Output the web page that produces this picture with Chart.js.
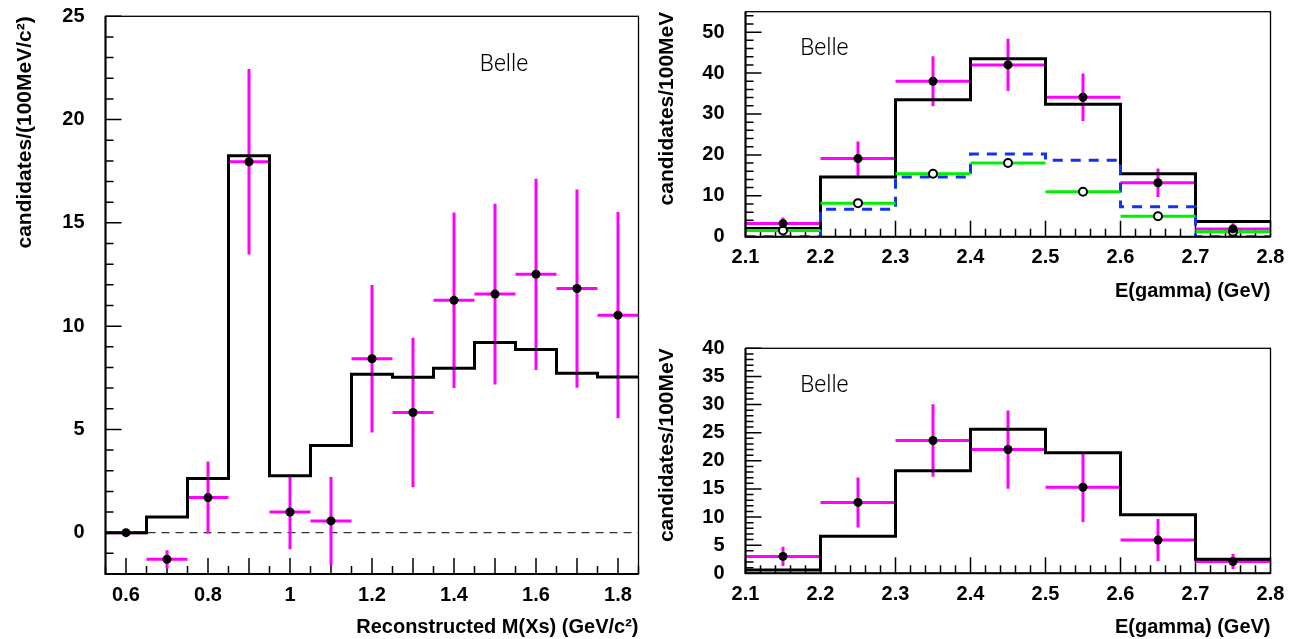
<!DOCTYPE html>
<html>
<head>
<meta charset="utf-8">
<script src="https://cdn.jsdelivr.net/npm/chart.js@4.4.1/dist/chart.umd.min.js"></script>
<style>
  html, body { margin: 0; padding: 0; background: #fff; }
  #wrap { position: relative; width: 1294px; height: 639px; overflow: hidden; }
  canvas { position: absolute; }
</style>
</head>
<body>
<div id="wrap">
  <canvas id="mxs" width="650" height="639" style="left:0;top:0"></canvas>
  <canvas id="egAll" width="644" height="320" style="left:650px;top:0"></canvas>
  <canvas id="egSub" width="644" height="319" style="left:650px;top:320px"></canvas>
</div>
<script>
// left panel, reconstructed M(Xs)
const mxsCenters = [0.6, 0.7, 0.8, 0.9, 1.0, 1.1, 1.2, 1.3, 1.4, 1.5, 1.6, 1.7, 1.8];
const mxsMC   = [0, 0.76, 2.62, 18.25, 2.76, 4.22, 7.67, 7.53, 7.96, 9.21, 8.87, 7.72, 7.54];
const mxsData = [0, -1.29, 1.7, 17.96, 1.0, 0.57, 8.42, 5.82, 11.25, 11.55, 12.51, 11.82, 10.53];
const mxsErr  = [0, 0.44, 1.75, 4.49, 1.8, 2.13, 3.57, 3.62, 4.25, 4.37, 4.63, 4.8, 4.99];
const mxsXTicks  = [0.6, 0.8, 1, 1.2, 1.4, 1.6, 1.8];
const mxsXLabels = ['0.6', '0.8', '1', '1.2', '1.4', '1.6', '1.8'];
const mxsYTicks  = [0, 5, 10, 15, 20, 25];

// right panels, E(gamma)
const egCenters = [2.15, 2.25, 2.35, 2.45, 2.55, 2.65, 2.75];
const egAllMC   = [2.0, 14.6, 33.5, 43.5, 32.4, 15.4, 3.7];
const egAllData = [3.2, 19.1, 38.0, 42.0, 34.1, 13.2, 1.9];
const egAllErr  = [1.5, 4.2, 6.1, 6.4, 5.8, 3.5, 1.4];
const egBlue    = [0, 6.7, 14.6, 20.2, 18.7, 7.3, 0];
const egGreen   = [1.5, 8.2, 15.4, 18.0, 11.0, 5.0, 1.2];
const egSubMC   = [0.6, 6.6, 18.25, 25.6, 21.45, 10.4, 2.5];
const egSubData = [3.0, 12.6, 23.6, 22.0, 15.3, 5.9, 2.1];
const egSubErr  = [1.7, 4.45, 6.45, 6.95, 6.2, 3.75, 1.35];
const egXTicks  = [2.1, 2.2, 2.3, 2.4, 2.5, 2.6, 2.7, 2.8];
const egXLabels = ['2.1', '2.2', '2.3', '2.4', '2.5', '2.6', '2.7', '2.8'];
const egAllYTicks = [0, 10, 20, 30, 40, 50];
const egSubYTicks = [0, 5, 10, 15, 20, 25, 30, 35, 40];

const BIN = 0.1;
const MAGENTA = '#ff00ff';
const tickFont = { family: 'Liberation Sans, Arial, sans-serif', weight: 'bold', size: 20 };

function histPoints(centers, values) {
    let pts = centers.map((c, i) => ({ x: c - BIN / 2, y: values[i] }));
    pts.push({ x: centers[centers.length - 1] + BIN / 2, y: values[values.length - 1] });
    return pts;
}
function markers(centers, values) {
    return centers.map((c, i) => ({ x: c, y: values[i] }));
}

// horizontal bin bar + vertical error, drawn through the scales
const errorBars = {
    id: 'errorBars',
    beforeDatasetDraw(chart, args) {
        let ds = chart.data.datasets[args.index];
        if (!ds.errBar) return;
        let xs = chart.scales.x, ys = chart.scales.y, a = chart.chartArea, ctx = chart.ctx;
        ctx.save();
        ctx.beginPath();
        ctx.rect(a.left, a.top, a.right - a.left, a.bottom - a.top);
        ctx.clip();
        ctx.strokeStyle = ds.errBar.color;
        ctx.lineWidth = ds.errBar.width;
        ds.data.forEach(function (p, i) {
            let px = xs.getPixelForValue(p.x), py = ys.getPixelForValue(p.y);
            ctx.beginPath();
            ctx.moveTo(xs.getPixelForValue(p.x - BIN / 2), py);
            ctx.lineTo(xs.getPixelForValue(p.x + BIN / 2), py);
            if (ds.errBar.err && ds.errBar.err[i] > 0) {
                let e = ds.errBar.err[i];
                ctx.moveTo(px, ys.getPixelForValue(p.y + e));
                ctx.lineTo(px, ys.getPixelForValue(p.y - e));
            }
            ctx.stroke();
        });
        ctx.restore();
    }
};

function isMultiple(v, step) {
    let r = v / step;
    return Math.abs(r - Math.round(r)) < 1e-6;
}

// ROOT-like frame with inward ticks
const rootFrame = {
    id: 'rootFrame',
    beforeDatasetsDraw(chart, args, o) {
        let ctx = chart.ctx, a = chart.chartArea, xs = chart.scales.x, ys = chart.scales.y;
        ctx.save();
        ctx.strokeStyle = '#000';
        ctx.lineWidth = 1.5;
        ctx.beginPath();
        for (let k = Math.ceil(xs.min / o.xMinor - 1e-6); k * o.xMinor <= xs.max + 1e-6; k++) {
            let v = k * o.xMinor, px = xs.getPixelForValue(v);
            let len = isMultiple(v, o.xMajor) ? 16 : 8;
            ctx.moveTo(px, a.bottom);
            ctx.lineTo(px, a.bottom - len);
        }
        for (let k = Math.ceil(ys.min / o.yMinor - 1e-6); k * o.yMinor <= ys.max + 1e-6; k++) {
            let v = k * o.yMinor, py = ys.getPixelForValue(v);
            let len = isMultiple(v, o.yMajor) ? 16 : 8;
            ctx.moveTo(a.left, py);
            ctx.lineTo(a.left + len, py);
        }
        ctx.stroke();
        if (o.zeroLine) {
            let py = ys.getPixelForValue(0);
            ctx.lineWidth = 1;
            ctx.setLineDash([8, 6]);
            ctx.beginPath();
            ctx.moveTo(a.left, py);
            ctx.lineTo(a.right, py);
            ctx.stroke();
        }
        ctx.restore();
    },
    afterDatasetsDraw(chart) {
        let ctx = chart.ctx, a = chart.chartArea;
        ctx.save();
        ctx.strokeStyle = '#000';
        ctx.lineWidth = 1.3;
        ctx.strokeRect(a.left, a.top, a.right - a.left, a.bottom - a.top);
        ctx.lineWidth = 2;
        ctx.beginPath();
        ctx.moveTo(a.left, a.top);
        ctx.lineTo(a.left, a.bottom);
        ctx.lineTo(a.right, a.bottom);
        ctx.stroke();
        ctx.restore();
    }
};

const belleLabel = {
    id: 'belleLabel',
    afterDatasetsDraw(chart, args, o) {
        let ctx = chart.ctx;
        ctx.save();
        ctx.fillStyle = '#000';
        ctx.font = '300 23px Roboto, "DejaVu Sans", sans-serif';
        ctx.textAlign = 'left';
        ctx.textBaseline = 'middle';
        ctx.fillText('Belle', chart.scales.x.getPixelForValue(o.x), chart.scales.y.getPixelForValue(o.y));
        ctx.restore();
    }
};

function makePanel(id, cfg) {
    return new Chart(document.getElementById(id), {
        type: 'line',
        data: { datasets: cfg.datasets },
        options: {
            responsive: false,
            animation: false,
            events: [],
            layout: { padding: cfg.padding },
            plugins: {
                legend: { display: false },
                tooltip: { enabled: false },
                rootFrame: cfg.frame,
                belleLabel: cfg.belle
            },
            scales: {
                x: {
                    type: 'linear',
                    min: cfg.xMin,
                    max: cfg.xMax,
                    grid: { display: false, drawTicks: false },
                    border: { display: false },
                    afterBuildTicks: function (s) { s.ticks = cfg.xTicks.map(v => ({ value: v })); },
                    afterFit: function (s) { s.height = cfg.xHeight; s.paddingLeft = 0; s.paddingRight = 0; },
                    ticks: {
                        color: '#000', font: tickFont, padding: 9, maxRotation: 0, autoSkip: false,
                        callback: (v, i) => cfg.xLabels[i]
                    },
                    title: {
                        display: true, text: cfg.xTitle, align: 'end', color: '#000',
                        font: { family: 'Liberation Sans, Arial, sans-serif', weight: 'bold', size: 20 },
                        padding: { top: 0, bottom: cfg.xTitlePad }
                    }
                },
                y: {
                    type: 'linear',
                    min: cfg.yMin,
                    max: cfg.yMax,
                    grid: { display: false, drawTicks: false },
                    border: { display: false },
                    afterBuildTicks: function (s) { s.ticks = cfg.yTicks.map(v => ({ value: v })); },
                    afterFit: function (s) { s.width = cfg.yWidth; s.paddingTop = 0; s.paddingBottom = 0; },
                    ticks: {
                        color: '#000', font: tickFont, padding: 21, autoSkip: false,
                        callback: v => String(v)
                    },
                    title: {
                        display: true, text: cfg.yTitle, align: 'end', color: '#000',
                        font: { family: 'Liberation Sans, Arial, sans-serif', weight: 'bold', size: 21 },
                        padding: { top: cfg.yTitlePad, bottom: 0 }
                    }
                }
            }
        },
        plugins: [rootFrame, errorBars, belleLabel]
    });
}

function pointSet(centers, values) {
    return {
        data: markers(centers, values), showLine: false,
        pointRadius: 4.5, pointBackgroundColor: '#000', pointBorderWidth: 0
    };
}
function histSet(centers, values, color, dash) {
    return {
        data: histPoints(centers, values), stepped: 'before',
        borderColor: color, borderWidth: 3, borderDash: dash || [], pointRadius: 0, fill: false
    };
}
function errSet(centers, values, errs, color) {
    return {
        data: markers(centers, values), showLine: false, pointRadius: 0,
        errBar: { err: errs, color: color, width: 3 }
    };
}

makePanel('mxs', {
    datasets: [
        pointSet(mxsCenters, mxsData),
        histSet(mxsCenters, mxsMC, '#000'),
        errSet(mxsCenters, mxsData, mxsErr, MAGENTA)
    ],
    padding: { left: 0, right: 11.5, top: 16.3, bottom: 0 },
    xMin: 0.55, xMax: 1.85, yMin: -2, yMax: 25,
    xTicks: mxsXTicks, xLabels: mxsXLabels, yTicks: mxsYTicks,
    xHeight: 65, yWidth: 105.5,
    xTitle: 'Reconstructed M(Xs) (GeV/c²)', xTitlePad: 0,
    yTitle: 'candidates/(100MeV/c²)', yTitlePad: 13,
    frame: { xMinor: 0.05, xMajor: 0.1, yMinor: 1, yMajor: 5, zeroLine: true },
    belle: { x: 1.463, y: 22.64 }
});

makePanel('egAll', {
    datasets: [
        pointSet(egCenters, egAllData),
        {
            data: markers(egCenters, egGreen), showLine: false,
            pointRadius: 4, pointBackgroundColor: '#fff', pointBorderColor: '#000', pointBorderWidth: 2,
            errBar: { err: null, color: '#00ee00', width: 3 }
        },
        histSet(egCenters, egBlue, '#1133ee', [10, 8]),
        histSet(egCenters, egAllMC, '#000'),
        errSet(egCenters, egAllData, egAllErr, MAGENTA)
    ],
    padding: { left: 0, right: 23.5, top: 11.7, bottom: 0 },
    xMin: 2.1, xMax: 2.8, yMin: 0, yMax: 55,
    xTicks: egXTicks, xLabels: egXLabels, yTicks: egAllYTicks,
    xHeight: 83.3, yWidth: 95.5,
    xTitle: 'E(gamma) (GeV)', xTitlePad: 17,
    yTitle: 'candidates/100MeV', yTitlePad: 5,
    frame: { xMinor: 0.02, xMajor: 0.1, yMinor: 2, yMajor: 10 },
    belle: { x: 2.173, y: 45.9 }
});

makePanel('egSub', {
    datasets: [
        pointSet(egCenters, egSubData),
        histSet(egCenters, egSubMC, '#000'),
        errSet(egCenters, egSubData, egSubErr, MAGENTA)
    ],
    padding: { left: 0, right: 23.5, top: 28.3, bottom: 0 },
    xMin: 2.1, xMax: 2.8, yMin: 0, yMax: 40,
    xTicks: egXTicks, xLabels: egXLabels, yTicks: egSubYTicks,
    xHeight: 65.7, yWidth: 95.5,
    xTitle: 'E(gamma) (GeV)', xTitlePad: 0,
    yTitle: 'candidates/100MeV', yTitlePad: 5,
    frame: { xMinor: 0.02, xMajor: 0.1, yMinor: 1, yMajor: 5 },
    belle: { x: 2.173, y: 33.2 }
});
</script>
</body>
</html>
